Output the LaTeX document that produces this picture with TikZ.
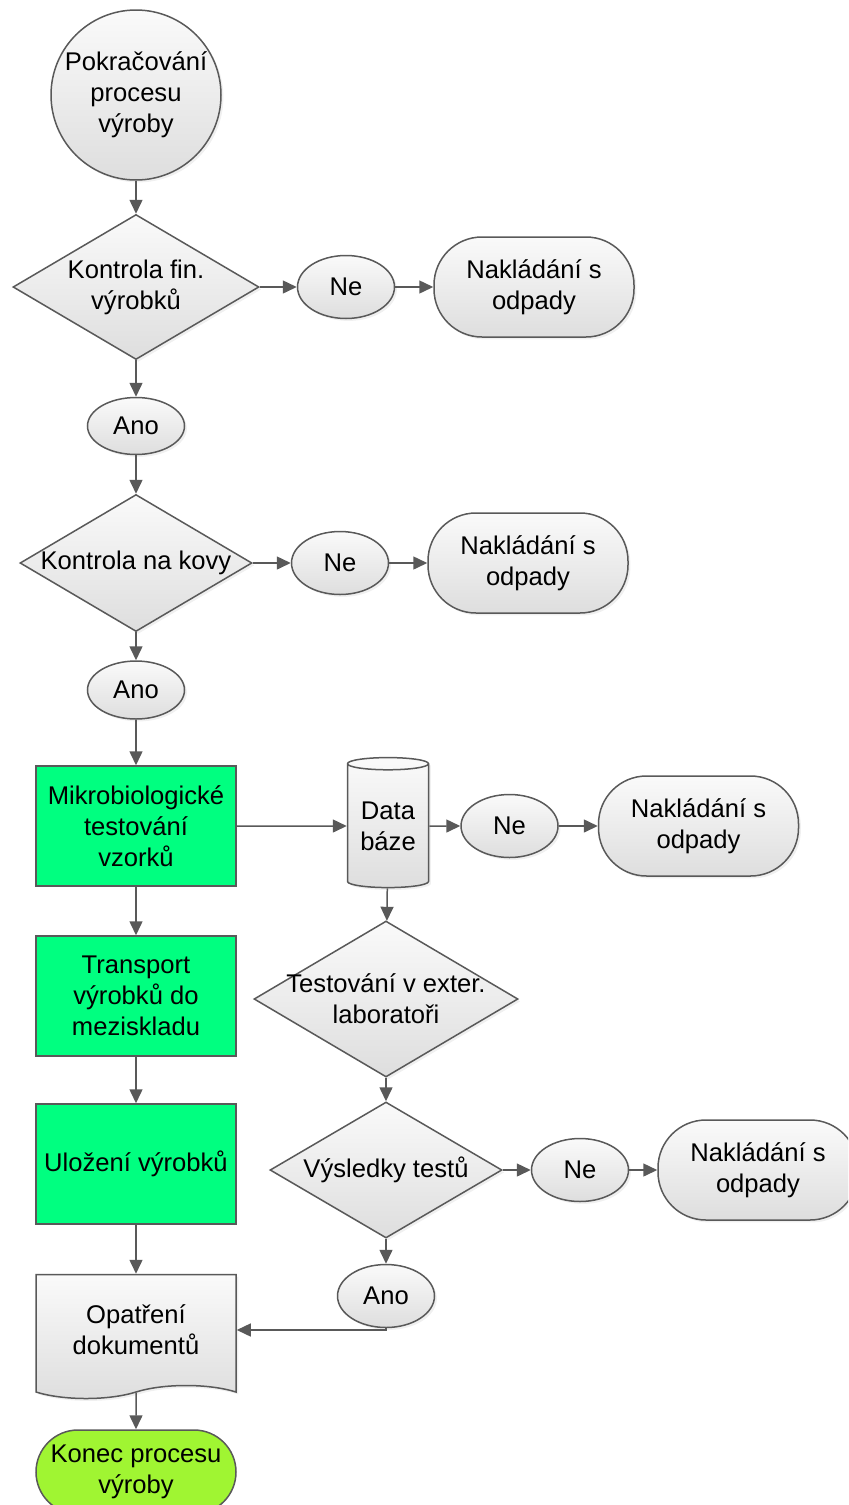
\documentclass[tikz,border=0pt]{standalone}
\usepackage{fontspec}
\setmainfont{Liberation Sans}
\usetikzlibrary{arrows.meta,positioning,shapes.geometric,shapes.symbols,shadows}

\definecolor{linegray}{RGB}{89,89,89}
\definecolor{procgreen}{RGB}{0,255,128}
\definecolor{endgreen}{RGB}{160,245,50}

\begin{document}
\begin{tikzpicture}[
    x=0.5pt, y=-0.5pt,
    node distance=19pt,
    every node/.style={font=\fontsize{12.8}{15.5}\selectfont, align=center, text=black},
    base/.style={draw=linegray, line width=0.75pt, top color=white!98!black, bottom color=white!87!black,
        drop shadow={shadow xshift=1.2pt, shadow yshift=-1.2pt, opacity=0.12}},
    startnode/.style={base, circle, minimum size=85pt, inner sep=0pt},
    decision/.style={base, diamond, inner sep=0pt},
    answer/.style={base, ellipse, minimum width=48.5pt, minimum height=31.5pt, inner sep=0pt},
    waste/.style={base, rounded corners=24pt, minimum width=100pt, minimum height=50pt},
    process/.style={draw=linegray, line width=0.75pt, fill=procgreen, minimum width=100pt, minimum height=60pt},
    database/.style={base, cylinder, shape border rotate=90, aspect=0.22, minimum width=40.5pt, minimum height=65pt, inner sep=0pt},
    docnode/.style={base, tape, tape bend top=none, tape bend bottom=in and out, tape bend height=6.5pt, minimum width=100pt, minimum height=62pt},
    endnode/.style={draw=linegray, line width=0.75pt, fill=endgreen, rounded corners=21pt, minimum width=100pt, minimum height=42pt},
    arr/.style={draw=linegray, line width=0.75pt, -{Triangle[length=7pt, width=6.5pt]}}
]
\useasboundingbox (0,0) rectangle (848,1505);
\clip (0,0) rectangle (848,1505);

% hlavni vetev
\node[startnode] (start) at (136,95) {Pokračování\\procesu\\výroby};
\node[decision, minimum width=123pt, minimum height=72.5pt, label={center:Kontrola fin.\\výrobků}] (kfin) at (136,287) {};
\node[answer, right=18.5pt of kfin] (ne1) {Ne};
\node[waste, right=19pt of ne1] (odp1) {Nakládání s\\odpady};
\node[answer, minimum height=28.5pt] (ano1) at (136,426) {Ano};

\node[decision, minimum width=116pt, minimum height=68.5pt, label={center:Kontrola na kovy}] (kkov) at (136,563) {};
\node[answer, right=19pt of kkov] (ne2) {Ne};
\node[waste, right=19pt of ne2] (odp2) {Nakládání s\\odpady};
\node[answer, minimum height=29pt] (ano2) at (136,690) {Ano};

\node[process] (mikro) at (136,826) {Mikrobiologické\\testování\\vzorků};
\node[database, right=55pt of mikro] (db) {Data\\báze};
\node[answer, right=15.5pt of db] (ne3) {Ne};
\node[waste, right=19.5pt of ne3] (odp3) {Nakládání s\\odpady};

\node[process] (transport) at (136,996) {Transport\\výrobků do\\meziskladu};
\node[process] (ulozeni) at (136,1164) {Uložení výrobků};

% externi testy
\node[decision, minimum width=132pt, minimum height=78pt, label={center:Testování v exter.\\laboratoři}] (extlab) at (386,999) {};
\node[decision, minimum width=116pt, minimum height=68pt, label={center:Výsledky testů}] (vysl) at (386,1170) {};
\node[answer, right=14pt of vysl] (ne4) {Ne};
\node[waste, right=14pt of ne4] (odp4) {Nakládání s\\odpady};
\node[answer] (ano3) at (386,1296) {Ano};

\node[docnode] (doc) at (136,1330) {Opatření\\dokumentů};
\node[endnode] (konec) at (136,1472) {Konec procesu\\výroby};

\draw[arr] (start) -- (kfin);
\draw[arr] (kfin) -- (ne1);
\draw[arr] (ne1) -- (odp1);
\draw[arr] (kfin) -- (ano1);
\draw[arr] (ano1) -- (kkov);
\draw[arr] (kkov) -- (ne2);
\draw[arr] (ne2) -- (odp2);
\draw[arr] (kkov) -- (ano2);
\draw[arr] (ano2) -- (mikro);
\draw[arr] (mikro) -- (db);
\draw[arr] (db) -- (ne3);
\draw[arr] (ne3) -- (odp3);
\draw[arr] (db) -- (extlab);
\draw[arr] (extlab) -- (vysl);
\draw[arr] (vysl) -- (ne4);
\draw[arr] (ne4) -- (odp4);
\draw[arr] (vysl) -- (ano3);
\draw[arr] (ano3) |- (doc);
\draw[arr] (mikro) -- (transport);
\draw[arr] (transport) -- (ulozeni);
\draw[arr] (ulozeni) -- (doc);
\draw[arr] (doc) -- (konec);
\end{tikzpicture}
\end{document}
